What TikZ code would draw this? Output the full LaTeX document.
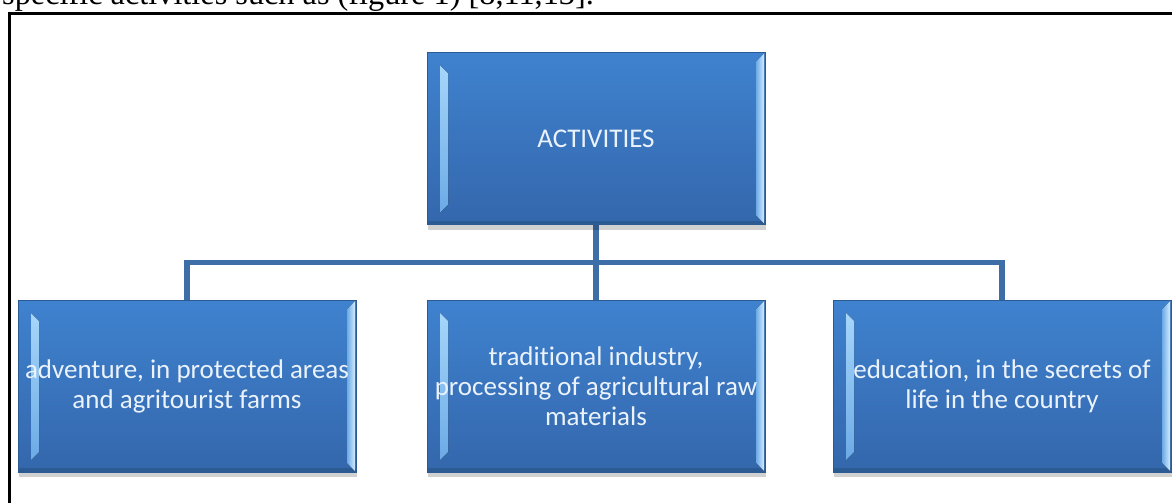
\documentclass[tikz,border=0pt]{standalone}
\usepackage{fontspec}
\setmainfont{Carlito}[Ligatures=NoCommon]
\newfontfamily\serifrm{Liberation Serif}
\usetikzlibrary{shadows,calc}
\pgfdeclarelayer{bg}
\pgfsetlayers{bg,main}
\definecolor{boxtop}{HTML}{3F82CF}
\definecolor{boxbot}{HTML}{3467AC}
\definecolor{boxedge}{HTML}{2C5A93}
\definecolor{linkc}{HTML}{3D6EA8}
\definecolor{hiA}{HTML}{A6D6FA}
\definecolor{hiB}{HTML}{6CAAE6}
\definecolor{hiC}{HTML}{D2ECFF}
\definecolor{txt}{HTML}{EAF2FB}
\tikzset{
  bevbox/.style={rectangle, draw=boxedge, line width=0.8pt,
    top color=boxtop, bottom color=boxbot,
    minimum width=338pt, minimum height=172pt, inner sep=0pt,
    text=txt, font=\fontsize{27}{30}\selectfont, align=center,
    drop shadow={shadow xshift=1pt, shadow yshift=-5pt, fill=black, opacity=0.18},
    path picture={
      \coordinate (nw) at (path picture bounding box.north west);
      \coordinate (se) at (path picture bounding box.south east);
      \fill[boxedge] ($(nw|-se)+(0,-4)$) rectangle (se);
      \fill[top color=hiA, bottom color=hiB]
        ($(nw)+(13,13)$) -- ($(nw)+(21,21)$) -- ($(nw|-se)+(21,-20)$)
        -- ($(nw|-se)+(13,-12)$) -- cycle;
      \fill[left color=hiB, right color=hiC]
        ($(se|-nw)+(-1,1)$) -- ($(se)+(-1,-1)$) -- ($(se)+(-9,-9)$)
        -- ($(se|-nw)+(-9,9)$) -- cycle;
    }},
  link/.style={draw=linkc, line width=5.5pt},
  framel/.style={draw=black, line width=2.5pt}
}
\begin{document}
\begin{tikzpicture}[x=1pt,y=-1pt]
\useasboundingbox (0,0) rectangle (1172,503);
\clip (0,0) rectangle (1172,503);
\node[anchor=base west, inner sep=0pt, font=\serifrm\fontsize{32.3}{32}\selectfont] (cap) at (2,5)
  {specific activities such as (figure 1) [8,11,13].};
\coordinate (fl) at (9.5,1000);
\coordinate (fr) at (2000,13.3);
\draw[framel] (fl) |- (fr);
\node[bevbox] (top) at (596,138.5) {ACTIVITIES};
\node[bevbox] (left) at (187,386) {adventure, in protected areas\\and agritourist farms};
\node[bevbox] (mid) at (596,386) {traditional industry,\\processing of agricultural raw\\materials};
\node[bevbox] (right) at (1002,386) {education, in the secrets of\\life in the country};
\coordinate (bus) at ($(top.south)!0.5!(mid.north)$);
\begin{pgfonlayer}{bg}
\fill[white] (0,0) rectangle (1172,503);
\draw[link] (top.south) -- (mid.north);
\draw[link] (left.north) |- (bus) -| (right.north);
\end{pgfonlayer}
\end{tikzpicture}
\end{document}
